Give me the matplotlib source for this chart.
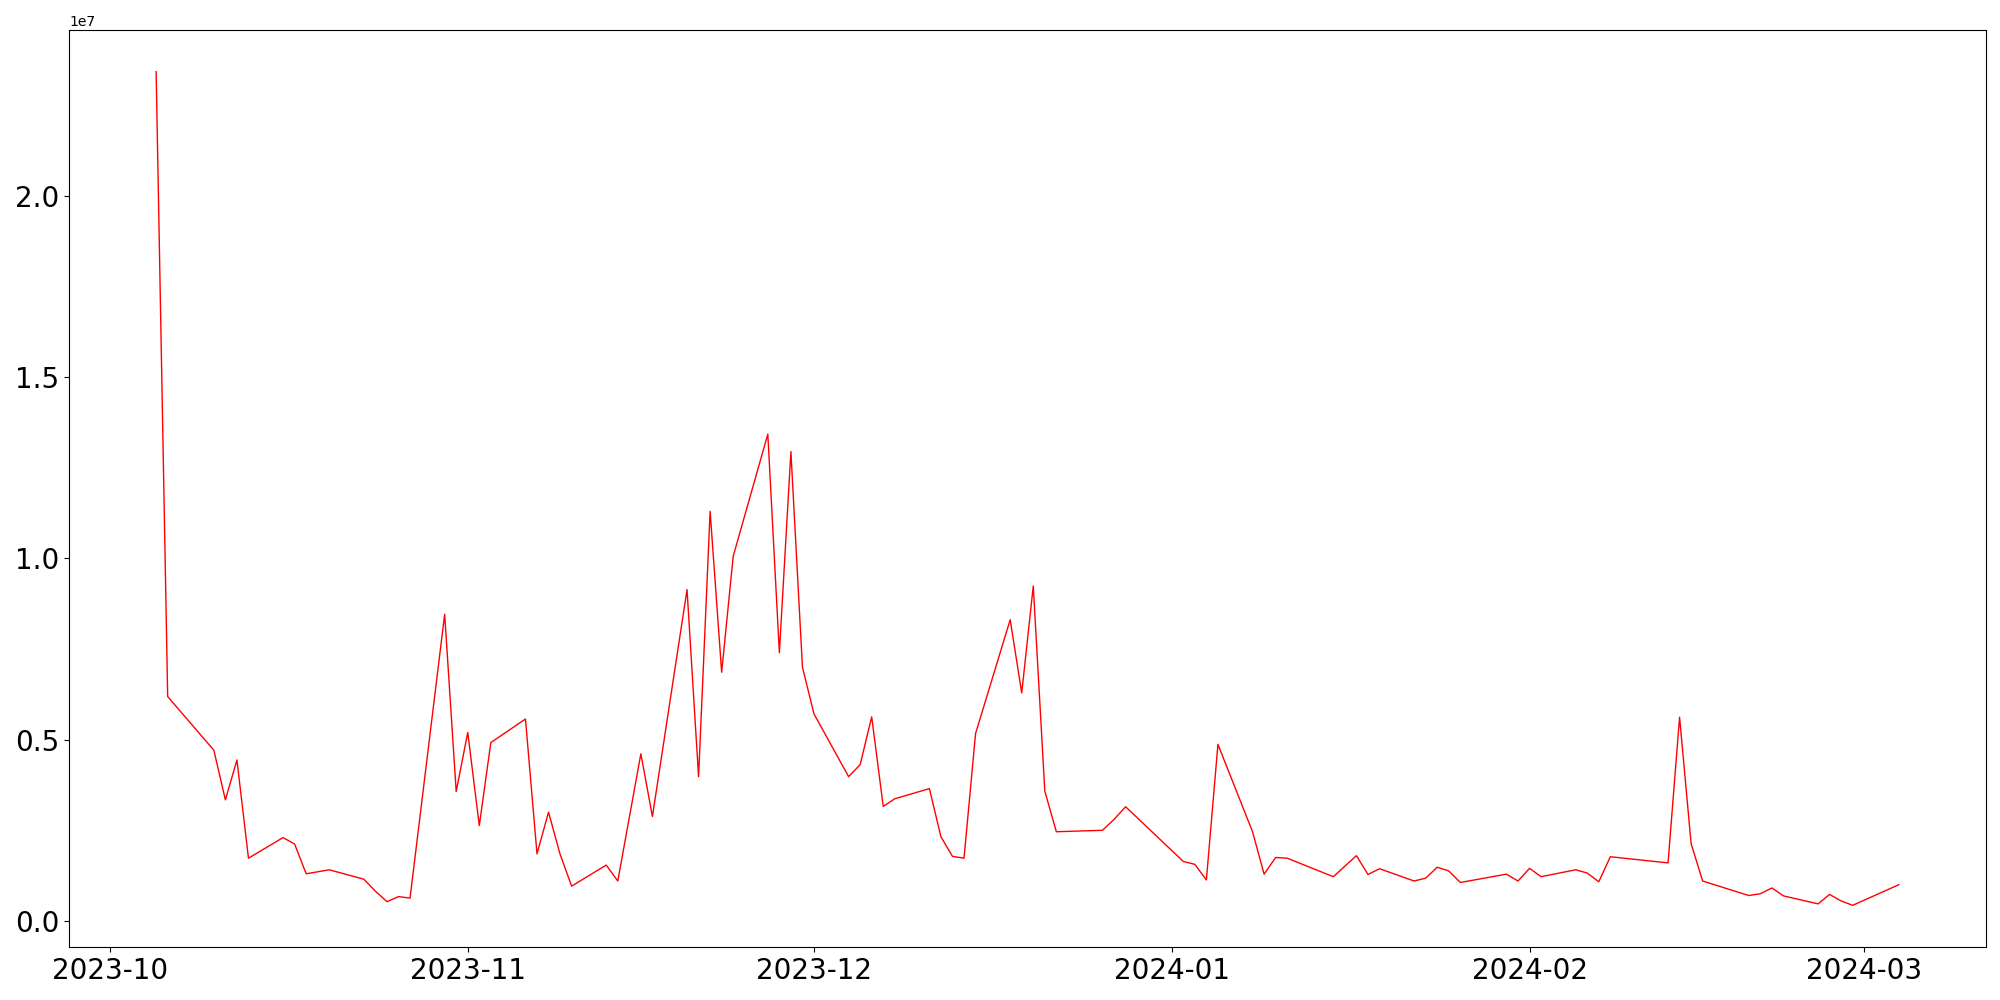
import matplotlib
matplotlib.use("Agg")
import matplotlib.pyplot as plt
import pandas as pd

dates = [
    "2023-10-05", "2023-10-06", "2023-10-10", "2023-10-11", "2023-10-12", "2023-10-13",
    "2023-10-16", "2023-10-17", "2023-10-18", "2023-10-20",
    "2023-10-23", "2023-10-24", "2023-10-25", "2023-10-26", "2023-10-27",
    "2023-10-30", "2023-10-31", "2023-11-01", "2023-11-02", "2023-11-03",
    "2023-11-06", "2023-11-07", "2023-11-08", "2023-11-09", "2023-11-10",
    "2023-11-13", "2023-11-14", "2023-11-16", "2023-11-17",
    "2023-11-20", "2023-11-21", "2023-11-22", "2023-11-23", "2023-11-24",
    "2023-11-27", "2023-11-28", "2023-11-29", "2023-11-30", "2023-12-01",
    "2023-12-04", "2023-12-05", "2023-12-06", "2023-12-07", "2023-12-08",
    "2023-12-11", "2023-12-12", "2023-12-13", "2023-12-14", "2023-12-15",
    "2023-12-18", "2023-12-19", "2023-12-20", "2023-12-21", "2023-12-22",
    "2023-12-26", "2023-12-27", "2023-12-28",
    "2024-01-02", "2024-01-03", "2024-01-04", "2024-01-05",
    "2024-01-08", "2024-01-09", "2024-01-10", "2024-01-11",
    "2024-01-15", "2024-01-17", "2024-01-18", "2024-01-19",
    "2024-01-22", "2024-01-23", "2024-01-24", "2024-01-25", "2024-01-26",
    "2024-01-30", "2024-01-31", "2024-02-01", "2024-02-02",
    "2024-02-05", "2024-02-06", "2024-02-07", "2024-02-08",
    "2024-02-13", "2024-02-14", "2024-02-15", "2024-02-16",
    "2024-02-20", "2024-02-21", "2024-02-22", "2024-02-23",
    "2024-02-26", "2024-02-27", "2024-02-28", "2024-02-29",
    "2024-03-04",
]

volume = [
    23.43e6, 6.19e6, 4.71e6, 3.34e6, 4.44e6, 1.73e6,
    2.30e6, 2.12e6, 1.30e6, 1.41e6,
    1.15e6, 0.82e6, 0.53e6, 0.67e6, 0.63e6,
    8.46e6, 3.57e6, 5.20e6, 2.63e6, 4.92e6,
    5.57e6, 1.85e6, 3.00e6, 1.84e6, 0.96e6,
    1.54e6, 1.10e6, 4.61e6, 2.88e6,
    9.14e6, 3.98e6, 11.30e6, 6.86e6, 10.06e6,
    13.43e6, 7.40e6, 12.95e6, 7.00e6, 5.71e6,
    3.98e6, 4.31e6, 5.63e6, 3.16e6, 3.37e6,
    3.65e6, 2.32e6, 1.78e6, 1.73e6, 5.17e6,
    8.31e6, 6.29e6, 9.24e6, 3.58e6, 2.46e6,
    2.50e6, 2.80e6, 3.15e6,
    1.64e6, 1.56e6, 1.13e6, 4.87e6,
    2.46e6, 1.29e6, 1.75e6, 1.73e6,
    1.22e6, 1.80e6, 1.28e6, 1.44e6,
    1.10e6, 1.18e6, 1.48e6, 1.38e6, 1.06e6,
    1.29e6, 1.10e6, 1.45e6, 1.22e6,
    1.41e6, 1.32e6, 1.08e6, 1.77e6,
    1.60e6, 5.62e6, 2.13e6, 1.10e6,
    0.70e6, 0.75e6, 0.91e6, 0.69e6,
    0.47e6, 0.73e6, 0.55e6, 0.43e6,
    1.00e6,
]

x = pd.to_datetime(dates)

fig = plt.figure(figsize=(20, 10), dpi=100)
ax = fig.add_subplot(111)
ax.plot(x, volume, color="red", linewidth=1.0)
ax.tick_params(axis="both", labelsize=20)
fig.subplots_adjust(left=0.0345, right=0.993, bottom=0.053, top=0.97)
fig.savefig("out.png", dpi=100)
